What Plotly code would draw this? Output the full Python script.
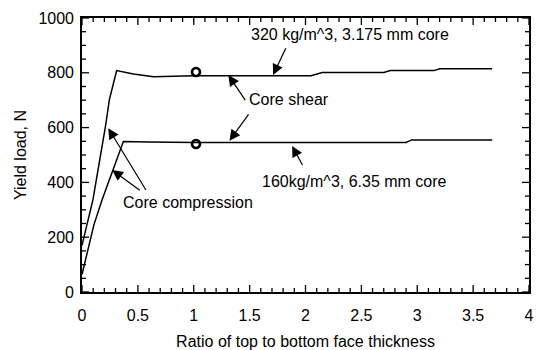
import plotly.graph_objects as go

# Yield load vs. face-thickness ratio for two sandwich core configurations
ratio_320 = [0.0, 0.045, 0.098, 0.21, 0.245, 0.31, 0.46, 0.64, 1.0, 2.05, 2.15,
             2.7, 2.76, 3.15, 3.2, 3.67]
load_320 = [170, 246, 337, 604, 702, 808, 796, 786, 789, 789, 801,
            801, 808, 808, 815, 815]

ratio_160 = [0.0, 0.107, 0.18, 0.37, 0.6, 1.0, 2.9, 2.95, 3.67]
load_160 = [64, 246, 337, 549, 547, 546, 546, 555, 555]

# Measured points at equal face thickness
test_ratio = [1.02, 1.02]
test_load = [803, 540]

X_RANGE = [0, 4]
Y_RANGE = [0, 1000]
x_major = [0, 0.5, 1, 1.5, 2, 2.5, 3, 3.5, 4]
y_major = [0, 200, 400, 600, 800, 1000]
x_minor = [i / 10 for i in range(0, 41)]
y_minor = list(range(0, 1001, 50))

FONT = "Liberation Sans, Arial, sans-serif"
WIDTH, HEIGHT = 536, 350
MARGIN = dict(l=82, r=7, t=18, b=58)

fig = go.Figure()
fig.add_trace(go.Scatter(x=ratio_320, y=load_320, mode="lines",
                         line=dict(color="black", width=1.5), showlegend=False))
fig.add_trace(go.Scatter(x=ratio_160, y=load_160, mode="lines",
                         line=dict(color="black", width=1.5), showlegend=False))
fig.add_trace(go.Scatter(x=test_ratio, y=test_load, mode="markers",
                         marker=dict(symbol="circle-open", size=8, color="black",
                                     line=dict(width=2.6, color="black")),
                         showlegend=False))

def label(text, x, y):
    fig.add_annotation(x=x, y=y, text=text, showarrow=False,
                       font=dict(family=FONT, size=16, color="black"))

def arrow(x_head, y_head, x_tail, y_tail):
    fig.add_annotation(x=x_head, y=y_head, ax=x_tail, ay=y_tail,
                       xref="x", yref="y", axref="x", ayref="y",
                       text="", showarrow=True, arrowhead=2, arrowsize=1.8,
                       arrowwidth=1.2, arrowcolor="black", standoff=0)

label("320 kg/m^3, 3.175 mm core", 2.4, 938)
arrow(1.71, 792, 1.83, 895)

label("Core shear", 1.85, 701)
arrow(1.31, 792, 1.47, 695)
arrow(1.32, 552, 1.50, 654)

label("160kg/m^3, 6.35 mm core", 2.44, 403)
arrow(1.88, 533, 1.98, 458)

label("Core compression", 0.95, 326)
arrow(0.235, 598, 0.58, 367)
arrow(0.27, 445, 0.53, 367)

# Inward tick marks on all four sides of the frame; lengths given in pixels
# and converted to data units from the plot-area size.
x_per_px = (X_RANGE[1] - X_RANGE[0]) / (WIDTH - MARGIN["l"] - MARGIN["r"])
y_per_px = (Y_RANGE[1] - Y_RANGE[0]) / (HEIGHT - MARGIN["t"] - MARGIN["b"])
tick_line = dict(color="black", width=1.3)
for xv in x_minor:
    length = (7 if xv in x_major else 4) * y_per_px
    fig.add_shape(type="line", xref="x", yref="y", x0=xv, x1=xv,
                  y0=Y_RANGE[0], y1=Y_RANGE[0] + length, line=tick_line, layer="above")
    fig.add_shape(type="line", xref="x", yref="y", x0=xv, x1=xv,
                  y0=Y_RANGE[1], y1=Y_RANGE[1] - length, line=tick_line, layer="above")
for yv in y_minor:
    length = (7 if yv in y_major else 4) * x_per_px
    fig.add_shape(type="line", xref="x", yref="y", y0=yv, y1=yv,
                  x0=X_RANGE[0], x1=X_RANGE[0] + length, line=tick_line, layer="above")
    fig.add_shape(type="line", xref="x", yref="y", y0=yv, y1=yv,
                  x0=X_RANGE[1], x1=X_RANGE[1] - length, line=tick_line, layer="above")

axis_common = dict(showgrid=False, zeroline=False, showline=True, linecolor="black",
                   linewidth=1.6, mirror=True, ticks="", automargin=False,
                   tickfont=dict(family=FONT, size=16, color="black"))

fig.update_layout(
    width=WIDTH, height=HEIGHT, margin=MARGIN,
    plot_bgcolor="white", paper_bgcolor="white",
    xaxis=dict(range=X_RANGE, tickmode="array", tickvals=x_major,
               ticktext=[f"{v:g}" for v in x_major], ticklabelstandoff=8,
               title=dict(text="Ratio of top to bottom face thickness",
                          font=dict(family=FONT, size=16, color="black"), standoff=20),
               **axis_common),
    yaxis=dict(range=Y_RANGE, tickmode="array", tickvals=y_major,
               ticktext=[str(v) for v in y_major], ticklabelstandoff=3,
               title=dict(text="Yield load, N",
                          font=dict(family=FONT, size=16, color="black"), standoff=8),
               **axis_common),
)

fig.write_html("out.html")
